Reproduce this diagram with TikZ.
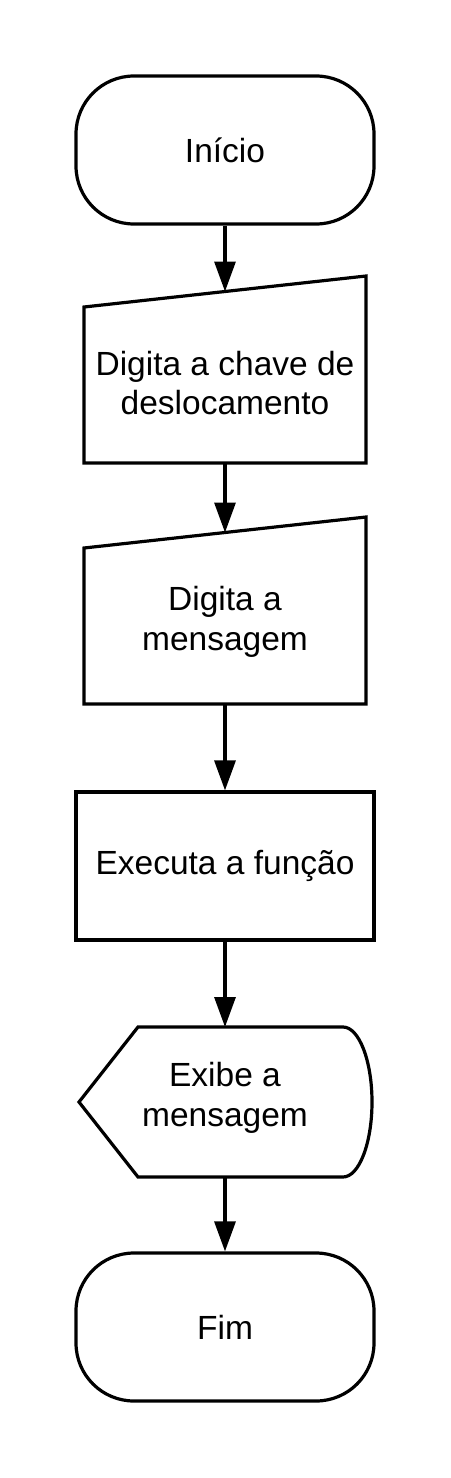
\documentclass[tikz,border=0pt]{standalone}
\usepackage{fontspec}
\setmainfont{Liberation Sans}
\usetikzlibrary{arrows.meta}
\begin{document}
\begin{tikzpicture}[x=1pt,y=-1pt,
  every node/.style={font=\fontsize{33.5}{39.5}\selectfont, align=center, inner sep=0pt},
  outline/.style={draw=black, line width=3.2pt, line join=miter, fill=white},
  terminal/.style={outline, rounded corners=58pt, minimum width=298pt, minimum height=148pt},
  procbox/.style={outline, minimum width=298pt, minimum height=148pt},
  flow/.style={draw=black, line width=3.2pt, -{Triangle[length=30pt,width=21pt]}}]
\useasboundingbox[fill=white] (0,0) rectangle (450,1478);

% Start
\node[terminal] (start) at (225,150) {Início};

% Manual input 1
\coordinate (in1top) at (225,291.5);
\coordinate (in1bot) at (225,463);
\draw[outline] (84,307) -- (366,276) -- (366,463) -- (84,463) -- cycle;
\node (in1) at (225,383) {Digita a chave de\\deslocamento};

% Manual input 2
\coordinate (in2top) at (225,532.5);
\coordinate (in2bot) at (225,704);
\draw[outline] (84,548) -- (366,517) -- (366,704) -- (84,704) -- cycle;
\node (in2) at (225,622) {Digita a\\mensagem};

% Process
\node[procbox] (proc) at (225,866) {Executa a função};

% Display
\coordinate (disptop) at (225,1027);
\coordinate (dispbot) at (225,1177);
\draw[outline] (79,1102) -- (138,1027) -- (343,1027)
  .. controls (359,1027) and (372,1060.6) .. (372,1102)
  .. controls (372,1143.4) and (359,1177) .. (343,1177)
  -- (138,1177) -- cycle;
\node (disp) at (225,1098) {Exibe a\\mensagem};

% End
\node[terminal] (stop) at (225,1327) {Fim};

% Connectors
\draw[flow] (start) -- (in1top);
\draw[flow] (in1bot) -- (in2top);
\draw[flow] (in2bot) -- (proc);
\draw[flow] (proc) -- (disptop);
\draw[flow] (dispbot) -- (stop);
\end{tikzpicture}
\end{document}
